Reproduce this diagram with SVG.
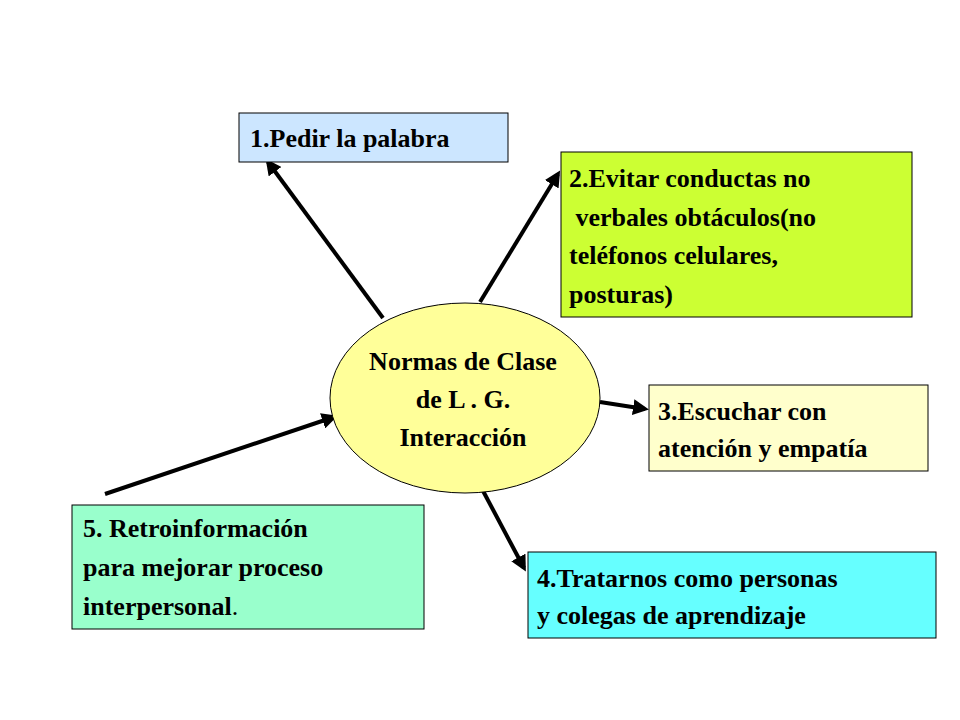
<svg xmlns="http://www.w3.org/2000/svg" width="960" height="720" viewBox="0 0 960 720">
<style>
.b{stroke:#000;stroke-width:1}
.t{font-family:"Liberation Serif",serif;font-weight:bold;font-size:26px;fill:#000}
.c{stroke:#000;stroke-width:4;fill:none;marker-end:url(#a)}
</style>
<defs><marker id="a" markerWidth="4" markerHeight="4" refX="3" refY="2" orient="auto"><path d="M0,0L4,2L0,4z" fill="#000"/></marker></defs>
<rect width="960" height="720" fill="#fff"/>
<g id="connectors">
<line class="c" x1="383" y1="318" x2="268" y2="162"/>
<line class="c" x1="480" y1="302" x2="558" y2="174"/>
<line class="c" x1="600" y1="402" x2="645" y2="409"/>
<line class="c" x1="482" y1="489" x2="524" y2="568"/>
<line class="c" x1="105" y1="494" x2="334" y2="417"/>
</g>
<g id="center"><ellipse class="b" cx="465" cy="398" rx="135" ry="95" fill="#ffff99"/>
<text class="t" text-anchor="middle" x="463" y="370">Normas de Clase</text>
<text class="t" text-anchor="middle" x="463" y="408">de L . G.</text>
<text class="t" text-anchor="middle" x="463" y="446">Interacción</text></g>
<g id="n1"><rect class="b" x="239" y="113" width="269" height="49" fill="#cce6ff"/>
<text class="t" x="250" y="147">1.Pedir la palabra</text></g>
<g id="n2"><rect class="b" x="561" y="152" width="351" height="165" fill="#ccff33"/>
<text class="t" x="569" y="187">2.Evitar conductas no</text>
<text class="t" x="569" y="226" xml:space="preserve"> verbales obtáculos(no</text>
<text class="t" x="569" y="264">teléfonos celulares,</text>
<text class="t" x="569" y="303">posturas)</text></g>
<g id="n3"><rect class="b" x="649" y="385" width="279" height="86" fill="#ffffcc"/>
<text class="t" x="658" y="420">3.Escuchar con</text>
<text class="t" x="658" y="457">atención y empatía</text></g>
<g id="n4"><rect class="b" x="528" y="552" width="408" height="86" fill="#66ffff"/>
<text class="t" x="537" y="587">4.Tratarnos como personas</text>
<text class="t" x="537" y="624">y colegas de aprendizaje</text></g>
<g id="n5"><rect class="b" x="72" y="505" width="352" height="124" fill="#99ffcc"/>
<text class="t" x="83" y="537">5. Retroinformación</text>
<text class="t" x="83" y="576">para mejorar proceso</text>
<text class="t" x="83" y="615">interpersonal<tspan font-weight="normal">.</tspan></text></g>
</svg>
